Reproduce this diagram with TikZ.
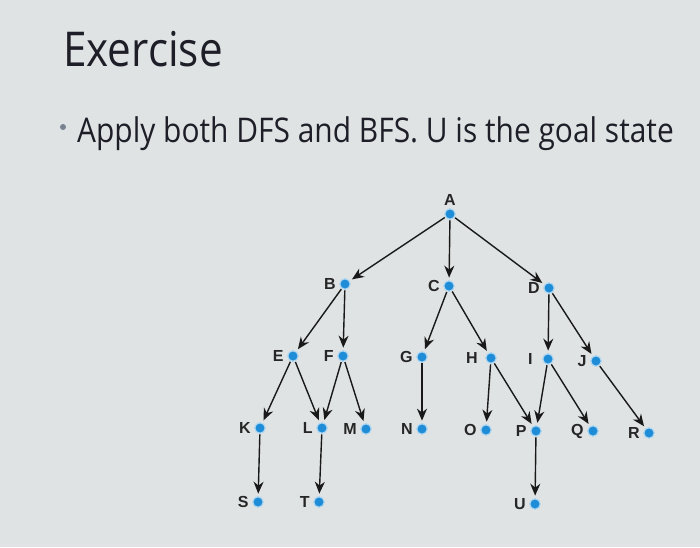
\documentclass[tikz,border=0pt]{standalone}
\usepackage{fontspec}
\setmainfont{Open Sans}
\newfontfamily\slidefont[FakeStretch=0.88]{Open Sans}
\newfontfamily\lblfont{Liberation Sans}
\usetikzlibrary{arrows.meta}
\definecolor{bgc}{RGB}{224,227,227}
\definecolor{dotc}{RGB}{30,140,215}
\definecolor{txtc}{RGB}{30,30,40}
\definecolor{bulc}{RGB}{120,130,145}
\tikzset{
  st/.style={circle,fill=dotc,draw=dotc!35!white,line width=1.2pt,inner sep=0pt,minimum size=10.5pt},
  lbf/.style={font=\lblfont\bfseries\fontsize{16}{18}\selectfont,text=black!85},
  lb/.style={label={[lbf,label distance=0pt]left:#1}},
  ed/.style={-{Stealth[length=12pt,width=10pt]},line width=1.4pt,black!90,shorten >=2.5pt,shorten <=0.5pt}
}
\begin{document}
\begin{tikzpicture}[x=1pt,y=-1pt]
\fill[bgc] (0,0) rectangle (700,547);
\useasboundingbox (0,0) rectangle (700,547);
\node[anchor=base west,inner sep=0pt,text=txtc,font=\slidefont\fontsize{48}{56}\selectfont] (title) at (63,66) {Exercise};
\node[circle,fill=bulc,inner sep=0pt,minimum size=6pt] (bul) at (63,127) {};
\node[anchor=base west,inner sep=0pt,text=txtc,font=\slidefont\fontsize{34}{40}\selectfont] (line) at (77,142) {Apply both DFS and BFS. U is the goal state};
% states
\node[st,label={[lbf,label distance=-1pt]above:A}] (A) at (450,214) {};
\node[st,lb=B] (B) at (345,284) {};
\node[st,lb=C] (C) at (449,286) {};
\node[st,lb=D] (D) at (549,288) {};
\node[st,lb=E] (E) at (293,356) {};
\node[st,lb=F] (F) at (343,356) {};
\node[st,lb=G] (G) at (422,357) {};
\node[st,label={[lbf,label distance=4pt]left:H}] (H) at (491,358) {};
\node[st,label={[lbf,label distance=6pt]left:I}] (I) at (548,359) {};
\node[st,lb=J] (J) at (596,361) {};
\node[st,lb=K] (K) at (260,428) {};
\node[st,lb=L] (L) at (322,428) {};
\node[st,lb=M] (M) at (366,429) {};
\node[st,lb=N] (N) at (422,429) {};
\node[st,lb=O] (O) at (486,430) {};
\node[st,lb=P] (P) at (536,431) {};
\node[st,lb=Q] (Q) at (593,431) {};
\node[st,lb=R] (R) at (649,433) {};
\node[st,lb=S] (S) at (258,502) {};
\node[st,lb=T] (T) at (319,502) {};
\node[st,lb=U] (U) at (535,504) {};
% edges
\foreach \a/\b in {A/B,A/C,A/D,B/E,B/F,C/G,C/H,D/I,D/J,E/K,E/L,F/L,F/M,G/N,H/O,H/P,I/P,I/Q,J/R,K/S,L/T,P/U}
  \draw[ed] (\a) -- (\b);
\end{tikzpicture}
\end{document}
